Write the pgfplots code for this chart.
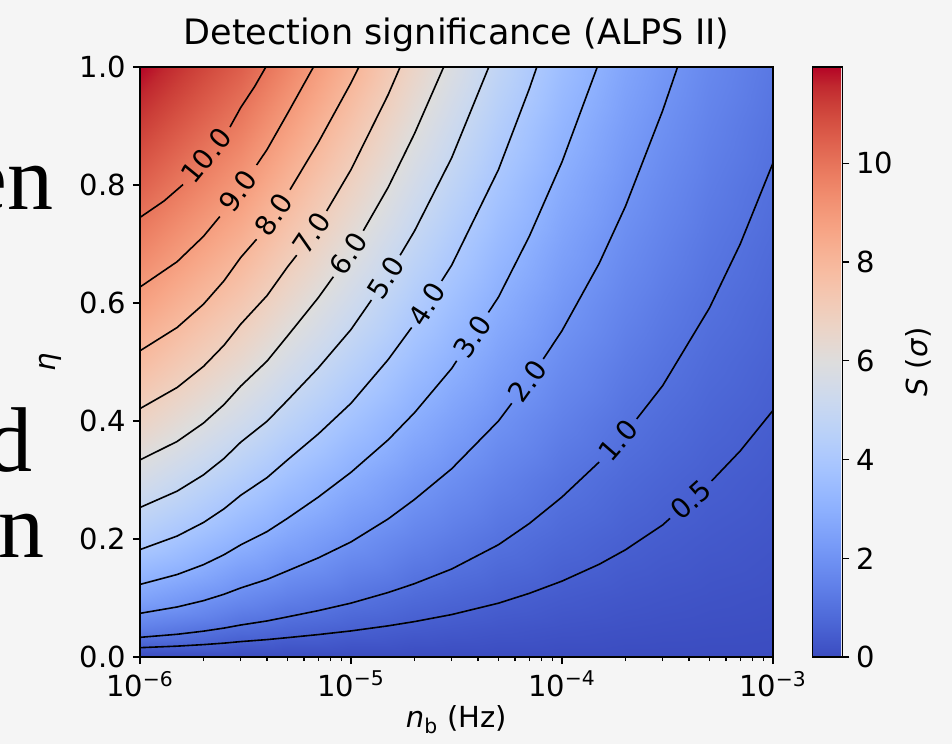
\documentclass[border=0pt]{standalone}
\usepackage{fontspec}
\setmainfont{DejaVu Sans}
\newfontfamily\slidefont{Liberation Serif}
\usepackage{pgfplots}
\pgfplotsset{compat=1.18}
\definecolor{bgc}{RGB}{245,245,245}
\newcommand\tfont{\fontsize{14.5}{17}\selectfont}
\newcommand\lbl{\fontsize{13.8}{16}\selectfont}
\pgfplotsset{
  colormap={coolwarm}{
    rgb255(0cm)=(59,76,192) rgb255(1cm)=(68,90,204) rgb255(2cm)=(77,104,215)
    rgb255(3cm)=(87,117,225) rgb255(4cm)=(98,130,234) rgb255(5cm)=(108,142,241)
    rgb255(6cm)=(119,154,247) rgb255(7cm)=(130,165,251) rgb255(8cm)=(141,176,254)
    rgb255(9cm)=(152,185,255) rgb255(10cm)=(163,194,255) rgb255(11cm)=(174,201,253)
    rgb255(12cm)=(184,208,249) rgb255(13cm)=(194,213,244) rgb255(14cm)=(204,217,238)
    rgb255(15cm)=(213,219,230) rgb255(16cm)=(221,221,221) rgb255(17cm)=(229,216,209)
    rgb255(18cm)=(236,211,197) rgb255(19cm)=(241,204,185) rgb255(20cm)=(245,196,173)
    rgb255(21cm)=(247,187,160) rgb255(22cm)=(247,177,148) rgb255(23cm)=(247,166,135)
    rgb255(24cm)=(244,154,123) rgb255(25cm)=(241,141,111) rgb255(26cm)=(236,127,99)
    rgb255(27cm)=(229,112,88) rgb255(28cm)=(222,96,77) rgb255(29cm)=(213,80,66)
    rgb255(30cm)=(203,62,56) rgb255(31cm)=(192,40,47) rgb255(32cm)=(180,4,38)
  },
  cl/.style={black, line width=0.8pt},
}

% significance S on the (n_b, eta) grid
\pgfplotstableread{
x y s
1e-6 0 0
3e-6 0 0
5e-6 0 0
1e-5 0 0
2e-5 0 0
3e-5 0 0
5e-5 0 0
1e-4 0 0
2e-4 0 0
3e-4 0 0
5e-4 0 0
1e-3 0 0
1e-6 0.05 1.438
3e-6 0.05 0.928
5e-6 0.05 0.749
1e-5 0.05 0.565
2e-5 0.05 0.420
3e-5 0.05 0.352
5e-5 0.05 0.280
1e-4 0.05 0.201
2e-4 0.05 0.145
3e-4 0.05 0.119
5e-4 0.05 0.093
1e-3 0.05 0.065
1e-6 0.1 2.557
3e-6 0.1 1.744
5e-6 0.1 1.427
1e-5 0.1 1.090
2e-5 0.1 0.816
3e-5 0.1 0.687
5e-5 0.1 0.546
1e-4 0.1 0.394
2e-4 0.1 0.284
3e-4 0.1 0.234
5e-4 0.1 0.182
1e-3 0.1 0.128
1e-6 0.2 4.265
3e-6 0.2 3.128
5e-6 0.2 2.620
1e-5 0.2 2.041
2e-5 0.2 1.548
3e-5 0.2 1.310
5e-5 0.2 1.046
1e-4 0.2 0.757
2e-4 0.2 0.547
3e-4 0.2 0.450
5e-4 0.2 0.350
1e-3 0.2 0.247
1e-6 0.3 5.572
3e-6 0.3 4.281
5e-6 0.3 3.648
1e-5 0.3 2.889
2e-5 0.3 2.215
3e-5 0.3 1.883
5e-5 0.3 1.510
1e-4 0.3 1.096
2e-4 0.3 0.793
3e-4 0.3 0.654
5e-4 0.3 0.508
1e-3 0.3 0.359
1e-6 0.4 6.766
3e-6 0.4 5.391
5e-6 0.4 4.663
1e-5 0.4 3.750
2e-5 0.4 2.907
3e-5 0.4 2.481
5e-5 0.4 1.998
1e-4 0.4 1.455
2e-4 0.4 1.055
3e-4 0.4 0.871
5e-4 0.4 0.677
1e-3 0.4 0.479
1e-6 0.5 7.817
3e-6 0.5 6.401
5e-6 0.5 5.606
1e-5 0.5 4.570
2e-5 0.5 3.578
3e-5 0.5 3.067
5e-5 0.5 2.480
1e-4 0.5 1.812
2e-4 0.5 1.316
3e-4 0.5 1.087
5e-4 0.5 0.846
1e-3 0.5 0.598
1e-6 0.6 8.764
3e-6 0.6 7.332
5e-6 0.6 6.488
1e-5 0.6 5.352
2e-5 0.6 4.229
3e-5 0.6 3.640
5e-5 0.6 2.954
1e-4 0.6 2.165
2e-4 0.6 1.576
3e-4 0.6 1.302
5e-4 0.6 1.014
1e-3 0.6 0.717
1e-6 0.7 9.630
3e-6 0.7 8.197
5e-6 0.7 7.319
1e-5 0.7 6.101
2e-5 0.7 4.863
3e-5 0.7 4.200
5e-5 0.7 3.422
1e-4 0.7 2.517
2e-4 0.7 1.835
3e-4 0.7 1.517
5e-4 0.7 1.182
1e-3 0.7 0.837
1e-6 0.8 10.433
3e-6 0.8 9.007
5e-6 0.8 8.105
1e-5 0.8 6.820
2e-5 0.8 5.479
3e-5 0.8 4.750
5e-5 0.8 3.883
1e-4 0.8 2.865
2e-4 0.8 2.093
3e-4 0.8 1.731
5e-4 0.8 1.350
1e-3 0.8 0.956
1e-6 0.9 11.200
3e-6 0.9 9.770
5e-6 0.9 8.851
1e-5 0.9 7.512
2e-5 0.9 6.080
3e-5 0.9 5.288
5e-5 0.9 4.338
1e-4 0.9 3.211
2e-4 0.9 2.350
3e-4 0.9 1.945
5e-4 0.9 1.517
1e-3 0.9 1.075
1e-6 1.0 11.950
3e-6 1.0 10.494
5e-6 1.0 9.563
1e-5 1.0 8.178
2e-5 1.0 6.665
3e-5 1.0 5.816
5e-5 1.0 4.787
1e-4 1.0 3.554
2e-4 1.0 2.605
3e-4 1.0 2.158
5e-4 1.0 1.685
1e-3 1.0 1.194
}\sig

\begin{document}
\begin{tikzpicture}
\path[use as bounding box] (0,0) rectangle (476pt,372pt);
\fill[bgc] (0,0) rectangle (476pt,372pt);

\begin{axis}[
  scale only axis, width=316.5pt, height=295pt,
  at={(70pt,43.5pt)}, anchor=south west,
  xmode=log, xmin=1e-6, xmax=1e-3, ymin=0, ymax=1,
  xtick={1e-6,1e-5,1e-4,1e-3},
  xticklabels={10\textsuperscript{−6},10\textsuperscript{−5},10\textsuperscript{−4},10\textsuperscript{−3}},
  ytick={0,0.2,0.4,0.6,0.8,1.0},
  yticklabels={0.0,0.2,0.4,0.6,0.8,1.0},
  tick pos=left, tick align=outside,
  major tick length=3.5pt, minor tick length=2pt,
  tick style={black, line width=0.7pt},
  tick label style={font=\tfont},
  axis line style={line width=0.8pt},
  axis on top,
  title={Detection significance (ALPS II)},
  title style={at={(axis description cs:0.5,1.0186)}, anchor=base, font=\fontsize{17.5}{20}\selectfont},
  xlabel={\textit{n}\textsubscript{b} (Hz)},
  xlabel style={at={(axis description cs:0.5,-0.1203)}, anchor=base, font=\tfont},
  ylabel={\textit{η}},
  ylabel style={at={(axis description cs:-0.1422,0.5)}, anchor=center, font=\tfont},
  colormap name=coolwarm,
  point meta min=0, point meta max=11.95,
  colorbar,
  colorbar style={
    at={(parent axis.north east)}, anchor=north west, xshift=11.25pt,
    width=14.9pt,
    ytick={0,2,4,6,8,10}, yticklabels={0,2,4,6,8,10},
    ytick pos=right, yticklabel pos=right,
    tick align=outside, major tick length=3.5pt,
    tick style={black, line width=0.7pt},
    yticklabel style={font=\tfont},
    axis line style={line width=0.8pt},
    every axis y label/.style={at={(axis description cs:3.54,0.5)}, rotate=90, anchor=center, font=\tfont},
    ylabel={\textit{S} (\textit{σ})},
  },
]
\addplot[surf, shader=interp, mesh/cols=12, point meta=explicit] table[x=x, y=y, meta=s] {\sig};

% S = 10
\addplot[cl] coordinates {(1e-6,0.745) (1.3e-6,0.7729) (1.6e-6,0.8008)};
\addplot[cl] coordinates {(2.67e-6,0.8983) (3e-6,0.931) (3.5e-6,0.9673) (3.95e-6,1.0)};
\addplot[draw=none] coordinates {(1.6e-6,0.8008) (2.67e-6,0.8983)} node[pos=0.5, sloped, font=\lbl, inner sep=0pt] {10.0};
% S = 9
\addplot[cl] coordinates {(1e-6,0.627) (1.5e-6,0.670) (2e-6,0.713) (2.39e-6,0.7465)};
\addplot[cl] coordinates {(3.57e-6,0.8338) (4e-6,0.860) (5e-6,0.921) (6.64e-6,1.0)};
\addplot[draw=none] coordinates {(2.39e-6,0.7465) (3.57e-6,0.8338)} node[pos=0.5, sloped, font=\lbl, inner sep=0pt] {9.0};
% S = 8
\addplot[cl] coordinates {(1e-6,0.519) (1.5e-6,0.5585) (2e-6,0.598) (2.5e-6,0.6375) (3e-6,0.677) (3.57e-6,0.708)};
\addplot[cl] coordinates {(5.14e-6,0.792) (7e-6,0.872) (1e-5,0.973) (1.09e-5,1.0)};
\addplot[draw=none] coordinates {(3.57e-6,0.708) (5.14e-6,0.792)} node[pos=0.5, sloped, font=\lbl, inner sep=0pt] {8.0};
% S = 7
\addplot[cl] coordinates {(1e-6,0.421) (1.5e-6,0.4568) (2e-6,0.4925) (2.5e-6,0.5283) (3e-6,0.564) (4e-6,0.6125) (5e-6,0.661) (5.53e-6,0.681)};
\addplot[cl] coordinates {(7.67e-6,0.756) (1e-5,0.826) (1.5e-5,0.953) (1.71e-5,1.0)};
\addplot[draw=none] coordinates {(5.53e-6,0.681) (7.67e-6,0.756)} node[pos=0.5, sloped, font=\lbl, inner sep=0pt] {7.0};
% S = 6
\addplot[cl] coordinates {(1e-6,0.334) (1.5e-6,0.3653) (2e-6,0.3965) (2.5e-6,0.4278) (3e-6,0.459) (4e-6,0.5015) (5e-6,0.544) (7e-6,0.609) (8.25e-6,0.6445)};
\addplot[cl] coordinates {(1.144e-5,0.7225) (1.5e-5,0.796) (2e-5,0.887) (2.75e-5,1.0)};
\addplot[draw=none] coordinates {(8.25e-6,0.6445) (1.144e-5,0.7225)} node[pos=0.5, sloped, font=\lbl, inner sep=0pt] {6.0};
% S = 5
\addplot[cl] coordinates {(1e-6,0.2534) (1.5e-6,0.2811) (2e-6,0.3087) (2.5e-6,0.3364) (3e-6,0.364) (4e-6,0.3995) (5e-6,0.435) (7e-6,0.490) (1e-5,0.555) (1.25e-5,0.605)};
\addplot[cl] coordinates {(1.71e-5,0.681) (2e-5,0.722) (3e-5,0.846) (4.5e-5,1.0)};
\addplot[draw=none] coordinates {(1.25e-5,0.605) (1.71e-5,0.681)} node[pos=0.5, sloped, font=\lbl, inner sep=0pt] {5.0};
% S = 4
\addplot[cl] coordinates {(1e-6,0.182) (1.5e-6,0.205) (2e-6,0.228) (2.5e-6,0.251) (3e-6,0.274) (4e-6,0.304) (5e-6,0.334) (7e-6,0.378) (1e-5,0.430) (1.5e-5,0.504) (1.94e-5,0.5585)};
\addplot[cl] coordinates {(2.69e-5,0.6374) (3e-5,0.664) (5e-5,0.826) (7e-5,0.963) (7.6e-5,1.0)};
\addplot[draw=none] coordinates {(1.94e-5,0.5585) (2.69e-5,0.6374)} node[pos=0.5, sloped, font=\lbl, inner sep=0pt] {4.0};
% S = 3
\addplot[cl] coordinates {(1e-6,0.123) (1.5e-6,0.1398) (2e-6,0.1565) (2.5e-6,0.1733) (3e-6,0.190) (4e-6,0.2125) (5e-6,0.235) (7e-6,0.271) (1e-5,0.313) (1.5e-5,0.368) (2e-5,0.414) (3e-5,0.489) (3.17e-5,0.502)};
\addplot[cl] coordinates {(4.48e-5,0.584) (5e-5,0.610) (7e-5,0.713) (1e-4,0.839) (1.47e-4,1.0)};
\addplot[draw=none] coordinates {(3.17e-5,0.502) (4.48e-5,0.584)} node[pos=0.5, sloped, font=\lbl, inner sep=0pt] {3.0};
% S = 2
\addplot[cl] coordinates {(1e-6,0.074) (1.5e-6,0.0848) (2e-6,0.0955) (2.5e-6,0.1063) (3e-6,0.117) (4e-6,0.1315) (5e-6,0.146) (7e-6,0.168) (1e-5,0.195) (1.5e-5,0.234) (2e-5,0.267) (3e-5,0.319) (5e-5,0.400) (5.78e-5,0.430)};
\addplot[cl] coordinates {(8.15e-5,0.505) (1e-4,0.553) (1.5e-4,0.667) (2e-4,0.764) (3e-4,0.926) (3.53e-4,1.0)};
\addplot[draw=none] coordinates {(5.78e-5,0.430) (8.15e-5,0.505)} node[pos=0.5, sloped, font=\lbl, inner sep=0pt] {2.0};
% S = 1
\addplot[cl] coordinates {(1e-6,0.0333) (1.5e-6,0.0385) (2e-6,0.0438) (2.5e-6,0.049) (3e-6,0.0542) (4e-6,0.0611) (5e-6,0.068) (7e-6,0.0786) (1e-5,0.0913) (1.5e-5,0.1093) (2e-5,0.1243) (3e-5,0.1491) (5e-5,0.1903) (7e-5,0.2262) (1e-4,0.2711) (1.5e-4,0.3304)};
\addplot[cl] coordinates {(2.26e-4,0.4034) (3e-4,0.4599) (5e-4,0.5916) (7e-4,0.7002) (1e-3,0.8373)};
\addplot[draw=none] coordinates {(1.5e-4,0.3304) (2.26e-4,0.4034)} node[pos=0.5, sloped, font=\lbl, inner sep=0pt] {1.0};
% S = 0.5
\addplot[cl] coordinates {(1e-6,0.0158) (1.5e-6,0.0184) (2e-6,0.021) (2.5e-6,0.0235) (3e-6,0.0261) (4e-6,0.0295) (5e-6,0.0328) (7e-6,0.038) (1e-5,0.0442) (1.5e-5,0.0528) (2e-5,0.06) (3e-5,0.0719) (5e-5,0.0912) (7e-5,0.1079) (1e-4,0.1286) (1.5e-4,0.1571) (2e-4,0.1817) (3e-4,0.2238) (3.25e-4,0.2349)};
\addplot[cl] coordinates {(5.12e-4,0.2984) (7e-4,0.3494) (1e-3,0.4179)};
\addplot[draw=none] coordinates {(3.25e-4,0.2349) (5.12e-4,0.2984)} node[pos=0.5, sloped, font=\lbl, inner sep=0pt] {0.5};
\end{axis}

% fragments of the slide text to the left of the figure
\node[anchor=base east, inner sep=0pt, font=\slidefont\fontsize{46}{50}\selectfont] at (26.75pt,267pt) {en};
\node[anchor=base east, inner sep=0pt, font=\slidefont\fontsize{46}{50}\selectfont] at (16.5pt,136pt) {d};
\node[anchor=base east, inner sep=0pt, font=\slidefont\fontsize{46}{50}\selectfont] at (22.5pt,93pt) {gn};
\end{tikzpicture}
\end{document}
